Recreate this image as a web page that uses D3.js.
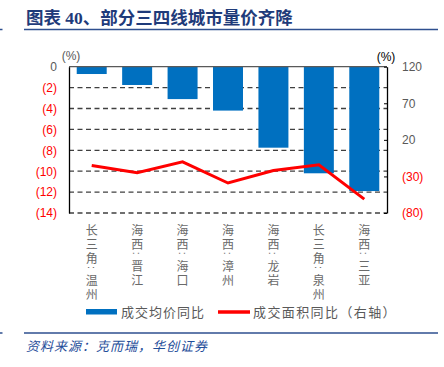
<!DOCTYPE html>
<html>
<head>
<meta charset="utf-8">
<script src="https://d3js.org/d3.v7.min.js"></script>
<style>
    body {margin: 0; background: #fff;}
    svg {display: block; font-family: "Liberation Sans", Arial, sans-serif;}
    .cjk {font-family: "Noto Sans CJK SC", sans-serif;}
</style>
</head>
<body>
<div id="chart"></div>
<script>

    let cities = ["长三角：温州", "海西：晋江", "海西：海口", "海西：漳州", "海西：龙岩", "长三角：泉州", "海西：三亚"];
    let priceYoY = [-0.7, -1.75, -3.1, -4.2, -7.75, -10.2, -11.9];
    let areaYoY = [-15, -25, -10, -39, -22, -14, -61];
    let leftTicks = [0, -2, -4, -6, -8, -10, -12, -14];
    let rightTicks = [120, 70, 20, -30, -80];

    let width = 444, height = 367;
    let margin = {top: 66.7, left: 69, right: 57, bottom: 154};
    let plotW = width - margin.left - margin.right,
        plotH = height - margin.top - margin.bottom;

    let svg = d3.select("#chart").append("svg")
        .attr("width", width)
        .attr("height", height);

    // title + rules
    svg.append("text")
        .attr("x", 26).attr("y", 24)
        .style("font-family", "'Liberation Serif', 'Noto Sans CJK SC', serif")
        .style("font-weight", "bold")
        .style("font-size", "17.5px")
        .attr("fill", "#1f3b7a")
        .text("图表 40、部分三四线城市量价齐降");

    [29.5, 333].forEach(function(y) {
        svg.append("line").attr("x1", 24).attr("x2", 438).attr("y1", y).attr("y2", y)
            .attr("stroke", "#2e4f8f").attr("stroke-width", 1.5);
        svg.append("line").attr("x1", 0).attr("x2", 2.5).attr("y1", y).attr("y2", y)
            .attr("stroke", "#2e4f8f").attr("stroke-width", 1.5);
    });

    svg.append("text")
        .attr("class", "cjk")
        .attr("x", 26).attr("y", 351)
        .style("font-size", "13px")
        .style("font-style", "italic")
        .style("letter-spacing", "1px")
        .attr("fill", "#1f4e9a")
        .text("资料来源：克而瑞，华创证券");

    let g = svg.append("g").attr("transform", "translate(" + margin.left + "," + margin.top + ")");

    let x = d3.scaleBand().domain(cities).range([0, plotW]).paddingInner(0.34).paddingOuter(0.17);
    let yL = d3.scaleLinear().domain([-14, 0]).range([plotH, 0]);
    let yR = d3.scaleLinear().domain([-80, 120]).range([plotH, 0]);

    // gridlines
    g.selectAll(".grid").data(leftTicks.slice(1)).enter().append("line")
        .attr("x1", 0).attr("x2", plotW)
        .attr("y1", d => yL(d)).attr("y2", d => yL(d))
        .attr("stroke", "#404040").attr("stroke-width", 1.3)
        .attr("stroke-dasharray", "5,3.5");

    // bars
    g.selectAll(".bar").data(priceYoY).enter().append("rect")
        .attr("x", (d, i) => x(cities[i]))
        .attr("width", x.bandwidth())
        .attr("y", yL(0))
        .attr("height", d => yL(d) - yL(0))
        .attr("fill", "#0070c0");

    // zero line
    g.append("line").attr("x1", 0).attr("x2", plotW).attr("y1", yL(0)).attr("y2", yL(0))
        .attr("stroke", "#595959").attr("stroke-width", 1.2);

    // line series
    let line = d3.line()
        .x((d, i) => x(cities[i]) + x.bandwidth() / 2)
        .y(d => yR(d));
    g.append("path").datum(areaYoY)
        .attr("d", line)
        .attr("fill", "none")
        .attr("stroke", "#ff0000")
        .attr("stroke-width", 3);

    // left axis
    let leftAxis = d3.axisLeft(yL).tickValues(leftTicks).tickSize(0).tickPadding(12)
        .tickFormat(d => d < 0 ? "(" + (-d) + ")" : d);
    let gl = g.append("g").call(leftAxis);
    gl.select(".domain").attr("stroke", "#000").attr("stroke-width", 1.3);
    gl.selectAll("text").style("font-size", "12px").style("font-family", "'Liberation Sans', Arial, sans-serif")
        .attr("fill", d => d < 0 ? "#ff0000" : "#595959");

    // right axis
    let rightAxis = d3.axisRight(yR).tickValues(rightTicks).tickSizeInner(-3).tickSizeOuter(0).tickPadding(15)
        .tickFormat(d => d < 0 ? "(" + (-d) + ")" : d);
    let gr = g.append("g").attr("transform", "translate(" + plotW + ",0)").call(rightAxis);
    gr.select(".domain").attr("stroke", "#000").attr("stroke-width", 1.3);
    gr.selectAll("line").attr("stroke", "#000");
    gr.selectAll("text").style("font-size", "12px").style("font-family", "'Liberation Sans', Arial, sans-serif")
        .attr("fill", d => d < 0 ? "#ff0000" : "#595959");

    // unit labels
    svg.append("text").attr("x", 71).attr("y", 60).attr("text-anchor", "middle")
        .style("font-size", "12px").attr("fill", "#595959").text("(%)");
    svg.append("text").attr("x", 386).attr("y", 61).attr("text-anchor", "middle")
        .style("font-size", "12px").attr("fill", "#000").text("(%)");

    // vertical category labels, stacked character by character
    cities.forEach(function(c, i) {
        let cx = margin.left + x(c) + x.bandwidth() / 2;
        let y = 229;
        let prevColon = false;
        Array.from(c).forEach(function(ch, k) {
            if (k > 0) y += (ch === "：") ? 10 : (prevColon ? 12 : 14.3);
            if (ch === "：") {
                svg.append("text")
                    .attr("x", cx).attr("y", y)
                    .attr("text-anchor", "middle")
                    .attr("dominant-baseline", "central")
                    .attr("transform", "rotate(90," + cx + "," + y + ")")
                    .style("font-size", "11px")
                    .attr("fill", "#6a6a6a")
                    .text(":");
                prevColon = true;
            } else {
                svg.append("text")
                    .attr("class", "cjk")
                    .attr("x", cx).attr("y", y)
                    .attr("text-anchor", "middle")
                    .attr("dominant-baseline", "central")
                    .style("font-size", "12px")
                    .attr("fill", "#6a6a6a")
                    .text(ch);
                prevColon = false;
            }
        });
    });

    // legend
    svg.append("rect").attr("x", 86).attr("y", 309).attr("width", 31).attr("height", 5.5).attr("fill", "#0070c0");
    svg.append("text").attr("class", "cjk").attr("x", 121).attr("y", 316.5)
        .style("font-size", "13px").style("letter-spacing", "1px").attr("fill", "#595959").text("成交均价同比");
    svg.append("line").attr("x1", 218).attr("x2", 250).attr("y1", 312).attr("y2", 312)
        .attr("stroke", "#ff0000").attr("stroke-width", 3.5);
    svg.append("text").attr("class", "cjk").attr("x", 253).attr("y", 316.5)
        .style("font-size", "13px").style("letter-spacing", "1.4px").attr("fill", "#595959").text("成交面积同比（右轴）");

</script>
</body>
</html>
